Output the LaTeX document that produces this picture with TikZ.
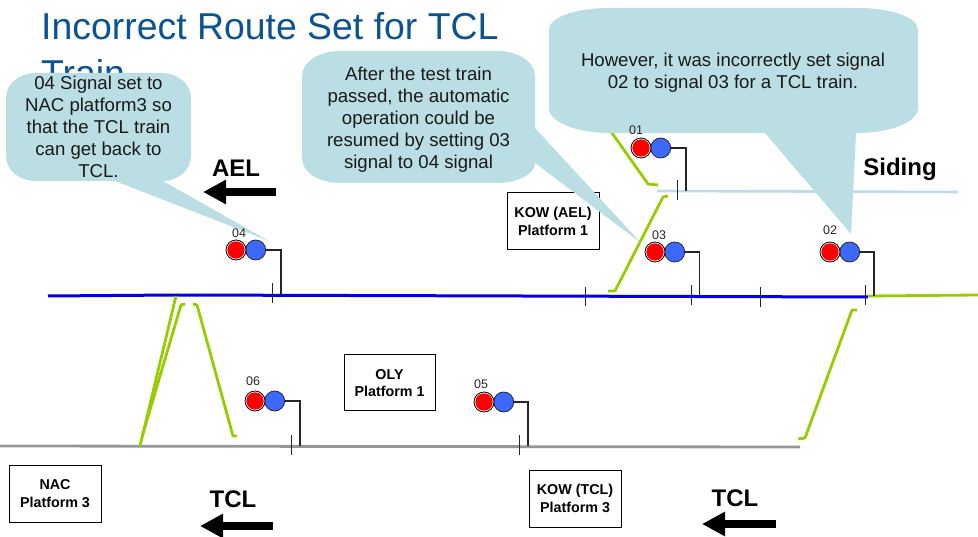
\documentclass[tikz,border=0pt]{standalone}
\usepackage{fontspec}
\setmainfont{Liberation Sans}
\usetikzlibrary{arrows.meta}
\definecolor{calloutc}{RGB}{186,222,227}
\definecolor{greenl}{RGB}{153,204,0}
\definecolor{titlec}{RGB}{11,83,148}
\definecolor{sigblue}{RGB}{60,105,250}
\definecolor{trackblue}{RGB}{0,0,235}
\definecolor{trackgrey}{RGB}{150,150,150}
\tikzset{
  lamp/.style={circle,minimum size=20pt,inner sep=0pt},
  redouter/.style={lamp,draw=black,line width=0.8pt,fill=white},
  redinner/.style={circle,fill=red,minimum size=17.4pt,inner sep=0pt},
  bluelamp/.style={lamp,draw=black!85,line width=0.8pt,fill=sigblue},
  stem/.style={draw=black!85,line width=1.25pt},
  tickm/.style={draw=black!85,line width=0.9pt},
  swline/.style={draw=greenl,line width=2.8pt},
  siglabel/.style={font=\fontsize{12.5pt}{14pt}\selectfont,text=black!85,inner sep=0pt},
  boxl/.style={draw=black,line width=1pt,fill=white,align=center,font=\bfseries\fontsize{14.3pt}{17.5pt}\selectfont,inner sep=0pt},
  bigl/.style={font=\bfseries\fontsize{24pt}{28pt}\selectfont,inner sep=0pt},
  calltext/.style={align=center,font=\fontsize{18.6pt}{22pt}\selectfont,text=black!90,inner sep=0pt},
  callout/.style={fill=calloutc,draw=none},
  dirarrow/.style={line width=8pt,draw=black,-{Triangle[length=23pt,width=23pt]}}
}
\newcommand{\signalset}[8]{%
  % name, red x, y, label, label x, label y, stem x, track y
  \node[bluelamp] (#1b) at (#2+19.7,#3) {};
  \node[redouter] (#1r) at (#2,#3) {};
  \node[redinner] (#1i) at (#2,#3) {};
  \node[siglabel] (#1l) at (#5,#6) {#4};
  \coordinate (#1e) at (#7,#8);
  \draw[stem] (#1b.east) -| (#1e);
  \coordinate (#1t) at (#7-8.5,#8-11);
  \coordinate (#1u) at (#7-8.5,#8+9);
  \draw[tickm] (#1t) -- (#1u);
}
\begin{document}
\begin{tikzpicture}[x=1pt,y=-1pt]
\useasboundingbox (0,0) rectangle (978,537);
% title
\node[anchor=north west,inner sep=0pt,align=left,text=titlec,font=\fontsize{37.4pt}{47pt}\selectfont] (title) at (41,12) {Incorrect Route Set for TCL\\Train};
% tracks
\coordinate (bl) at (48,296); \coordinate (bm) at (176,295); \coordinate (br) at (868,297);
\coordinate (gl) at (0,446); \coordinate (gr) at (800,447);
\coordinate (sl) at (657,191); \coordinate (sr) at (958,192);
\coordinate (el) at (868,296); \coordinate (er) at (978,295);
\draw[trackgrey,line width=2.8pt] (gl) -- (gr);
\draw[calloutc,line width=2.6pt] (sl) -- (sr);
\draw[trackblue,line width=3pt] (bl) -- (bm) -- (br);
\draw[swline] (el) -- (er);
% switch lines
\coordinate (a1) at (600,116); \coordinate (a2) at (648,184); \coordinate (a3) at (658,185);
\draw[swline,line join=round] (a1) -- (a2) -- (a3);
\coordinate (b1) at (608,291); \coordinate (b2) at (615,291); \coordinate (b3) at (663,197); \coordinate (b4) at (668,196);
\draw[swline,line join=round] (b1) -- (b2) -- (b3) -- (b4);
\coordinate (c1) at (798,439); \coordinate (c2) at (805,438); \coordinate (c3) at (852,310); \coordinate (c4) at (857,310);
\draw[swline,line join=round] (c1) -- (c2) -- (c3) -- (c4);
\coordinate (d1) at (140,446); \coordinate (d2) at (176,296);
\draw[swline] (d1) -- (d2);
\coordinate (e1) at (142,437); \coordinate (e2) at (181,305); \coordinate (e3) at (185,304);
\draw[swline,line join=round] (e1) -- (e2) -- (e3);
\coordinate (f1) at (193,304); \coordinate (f2) at (197,305); \coordinate (f3) at (233,436); \coordinate (f4) at (237,436);
\draw[swline,line join=round] (f1) -- (f2) -- (f3) -- (f4);
\coordinate (t1) at (585,287); \coordinate (t2) at (585,306);
\draw[tickm] (t1) -- (t2);
\coordinate (t3) at (760,287); \coordinate (t4) at (760,307);
\draw[tickm] (t3) -- (t4);
% boxes
\node[boxl,minimum width=92pt,minimum height=57pt] (kowael) at (553,221.5) {KOW (AEL)\\Platform 1};
\node[boxl,minimum width=91pt,minimum height=56pt] (oly) at (389.5,383) {OLY\\Platform 1};
\node[boxl,minimum width=92pt,minimum height=57pt] (nac) at (55,493.5) {NAC\\Platform 3};
\node[boxl,minimum width=92pt,minimum height=57pt] (kowtcl) at (575,498.5) {KOW (TCL)\\Platform 3};
% big labels
\node[bigl] (ael) at (236,168) {AEL};
\node[bigl] (siding) at (900,169) {Siding};
\node[bigl] (tcl1) at (233,499) {TCL};
\node[bigl] (tcl2) at (735,498) {TCL};
% arrows
\coordinate (ar1) at (276,192); \coordinate (ar2) at (203,192);
\draw[dirarrow] (ar1) -- (ar2);
\coordinate (ar3) at (273,526); \coordinate (ar4) at (200,526);
\draw[dirarrow] (ar3) -- (ar4);
\coordinate (ar5) at (776,524); \coordinate (ar6) at (702,524);
\draw[dirarrow] (ar5) -- (ar6);
% callouts
\path[callout] (36,73) -- (161,73) .. controls (178,73) and (191,84) .. (191,98) -- (191,156)
  .. controls (191,170) and (178,181) .. (163,181) -- (269,241) -- (115,181) -- (36,181)
  .. controls (19,181) and (6,170) .. (6,156) -- (6,98) .. controls (6,84) and (19,73) .. (36,73) -- cycle;
\path[callout] (340,51) -- (497,51) .. controls (518,51) and (535,62) .. (535,76) -- (535,128)
  -- (641,243) -- (535,163) .. controls (535,174) and (518,183) .. (497,183) -- (340,183)
  .. controls (319,183) and (302,172) .. (302,158) -- (302,76) .. controls (302,62) and (319,51) .. (340,51) -- cycle;
\path[callout] (610,8) -- (857,8) .. controls (891,8) and (918,17) .. (918,30) -- (918,108)
  .. controls (918,122) and (891,133) .. (856,133) -- (851,234) -- (765,133) -- (610,133)
  .. controls (576,133) and (549,122) .. (549,108) -- (549,30) .. controls (549,17) and (576,8) .. (610,8) -- cycle;
\node[calltext] (c1t) at (98.5,127) {04 Signal set to\\NAC platform3 so\\that the TCL train\\can get back to\\TCL.};
\node[calltext] (c2t) at (418.5,120) {After the test train\\passed, the automatic\\operation could be\\resumed by setting 03\\signal to 04 signal};
\node[calltext] (c3t) at (733,73) {However, it was incorrectly set signal\\02 to signal 03 for a TCL train.};
% signals
\signalset{s4}{236}{250}{04}{239}{233}{281}{294}
\signalset{s1}{641}{148}{01}{636}{130}{686}{191}
\signalset{s3}{655}{252}{03}{659}{235}{699.5}{296}
\signalset{s2}{830}{252}{02}{830}{230}{874}{296}
\signalset{s6}{255}{401}{06}{253}{381}{300}{446}
\signalset{s5}{484}{402}{05}{481}{384}{528}{446}
\end{tikzpicture}
\end{document}
